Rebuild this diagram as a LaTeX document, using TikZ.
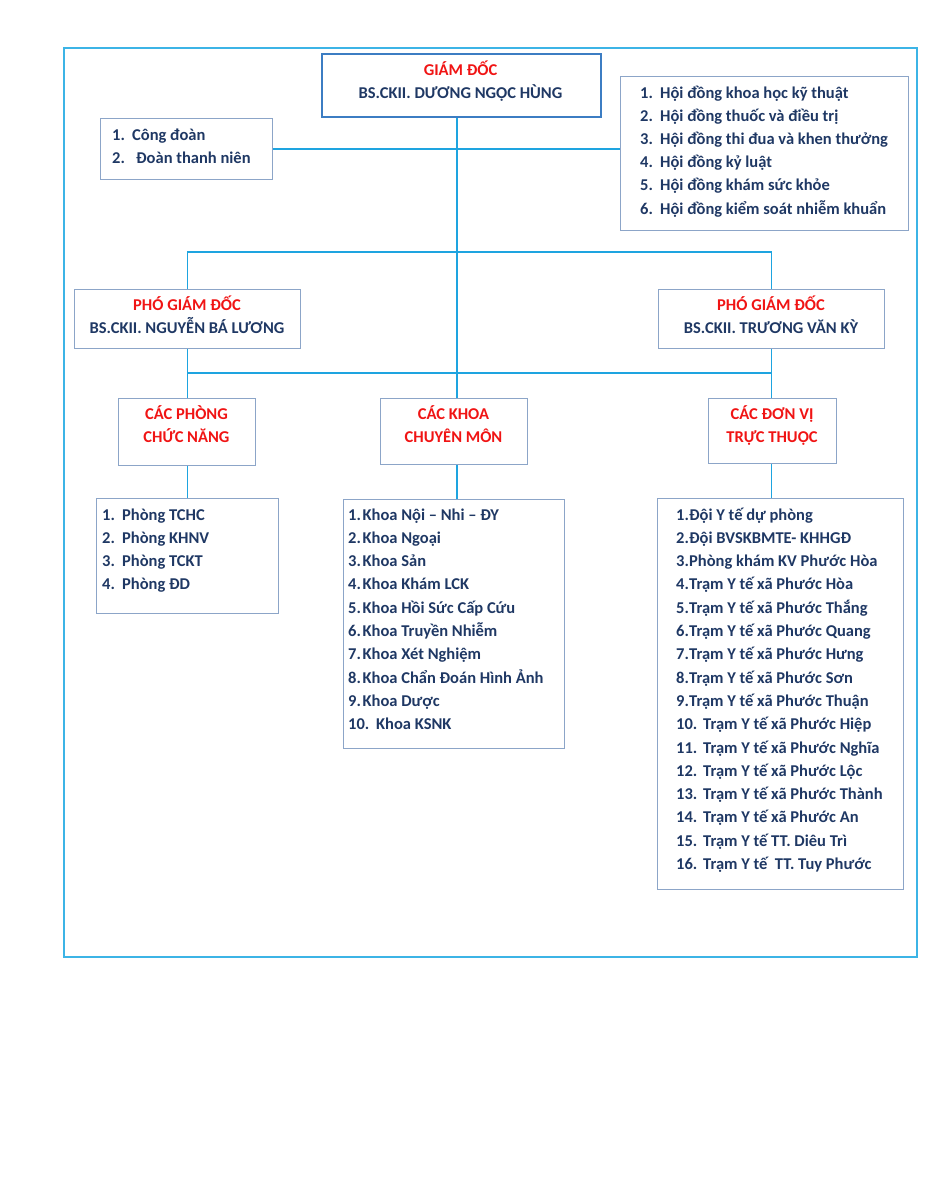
\documentclass[tikz,border=0pt]{standalone}
\usepackage{fontspec}
\setmainfont{Carlito}
\definecolor{linecol}{RGB}{30,164,224}
\definecolor{framecol}{RGB}{60,180,230}
\definecolor{boxcol}{RGB}{140,165,200}
\definecolor{dircol}{RGB}{60,125,195}
\definecolor{navy}{RGB}{31,56,100}
\definecolor{redc}{RGB}{240,20,20}
\newcommand\numtxt[3]{\makebox[#1][l]{#2}#3}
\begin{document}
\begin{tikzpicture}[x=1pt,y=-1pt,
  conn/.style={draw=linecol, line width=1.8pt},
  bx/.style={draw=boxcol, line width=1pt, rectangle, inner sep=0pt, anchor=north west},
  txt/.style={font=\bfseries\fontsize{16.5}{20}\selectfont, text=navy, inner sep=0pt},
  ttl/.style={font=\bfseries\fontsize{16.5}{20}\selectfont, text=redc, inner sep=0pt, anchor=base},
  frame/.style={draw=framecol, line width=2.2pt, rectangle, inner sep=0pt, anchor=north west}
]
\useasboundingbox (0,0) rectangle (927,1200);
\node[frame, minimum width=853pt, minimum height=909pt] (fr) at (63,47) {};
\coordinate (vx) at (457,0);
\coordinate (h1) at (0,252);
\coordinate (h2) at (0,373);

% boxes
\node[bx, draw=dircol, line width=1.8pt, minimum width=279pt, minimum height=63pt] (gd) at (321,53) {};
\node[bx, minimum width=172pt, minimum height=61pt] (cd) at (100,118) {};
\node[bx, minimum width=288pt, minimum height=154pt] (hd) at (620,76) {};
\node[bx, minimum width=226pt, minimum height=59pt] (pgl) at (74,289) {};
\node[bx, minimum width=226pt, minimum height=59pt] (pgr) at (658,289) {};
\node[bx, minimum width=137pt, minimum height=67pt] (phong) at (118,398) {};
\node[bx, minimum width=147pt, minimum height=66pt] (khoa) at (380,398) {};
\node[bx, minimum width=128pt, minimum height=65pt] (dv) at (708,398) {};
\node[bx, minimum width=182pt, minimum height=115pt] (phongl) at (96,498) {};
\node[bx, minimum width=221pt, minimum height=249pt] (khoal) at (343,499) {};
\node[bx, minimum width=246pt, minimum height=391pt] (dvl) at (657,498) {};

% titles
\node[ttl] (gdt1) at (460.5,75) {GIÁM ĐỐC};
\node[txt, anchor=base] (gdt2) at (460.5,98) {BS.CKII. DƯƠNG NGỌC HÙNG};
\node[ttl] (pglt1) at (187,310) {PHÓ GIÁM ĐỐC};
\node[txt, anchor=base] (pglt2) at (187,333) {BS.CKII. NGUYỄN BÁ LƯƠNG};
\node[ttl] (pgrt1) at (771,310) {PHÓ GIÁM ĐỐC};
\node[txt, anchor=base] (pgrt2) at (771,333) {BS.CKII. TRƯƠNG VĂN KỲ};
\node[ttl] (pht1) at (186.5,419) {CÁC PHÒNG};
\node[ttl] (pht2) at (186.5,442) {CHỨC NĂNG};
\node[ttl] (kht1) at (453.5,419) {CÁC KHOA};
\node[ttl] (kht2) at (453.5,442) {CHUYÊN MÔN};
\node[ttl] (dvt1) at (772,419) {CÁC ĐƠN VỊ};
\node[ttl] (dvt2) at (772,442) {TRỰC THUỘC};

% lists
\node[txt, anchor=base west] (cd1) at (112,140) {\numtxt{20pt}{1.}{Công đoàn}};
\node[txt, anchor=base west] (cd2) at (112,163) {\numtxt{24pt}{2.}{Đoàn thanh niên}};

\foreach \nn/\tx [count=\i from 0] in {1./Hội đồng khoa học kỹ thuật, 2./Hội đồng thuốc và điều trị, 3./Hội đồng thi đua và khen thưởng, 4./Hội đồng kỷ luật, 5./Hội đồng khám sức khỏe, 6./Hội đồng kiểm soát nhiễm khuẩn}
  \node[txt, anchor=base west] (hd\i) at (640,{98+23.2*\i}) {\numtxt{20pt}{\nn}{\tx}};

\foreach \nn/\tx [count=\i from 0] in {1./Phòng TCHC, 2./Phòng KHNV, 3./Phòng TCKT, 4./Phòng ĐD}
  \node[txt, anchor=base west] (pl\i) at (102,{520+23.3*\i}) {\numtxt{20pt}{\nn}{\tx}};

\foreach \w/\nn/\tx [count=\i from 0] in {14.5pt/1./Khoa Nội – Nhi – ĐY, 14.5pt/2./Khoa Ngoại, 14.5pt/3./Khoa Sản, 14.5pt/4./Khoa Khám LCK, 14.5pt/5./Khoa Hồi Sức Cấp Cứu, 14.5pt/6./Khoa Truyền Nhiễm, 14.5pt/7./Khoa Xét Nghiệm, 14.5pt/8./Khoa Chẩn Đoán Hình Ảnh, 14.5pt/9./Khoa Dược, 28pt/10./Khoa KSNK}
  \node[txt, anchor=base west] (kl\i) at (348,{520+23.3*\i}) {\numtxt{\w}{\nn}{\tx}};

\foreach \w/\nn/\tx [count=\i from 0] in {13pt/1./Đội Y tế dự phòng, 13pt/2./Đội BVSKBMTE- KHHGĐ, 13pt/3./Phòng khám KV Phước Hòa, 13pt/4./Trạm Y tế xã Phước Hòa, 13pt/5./Trạm Y tế xã Phước Thắng, 13pt/6./Trạm Y tế xã Phước Quang, 13pt/7./Trạm Y tế xã Phước Hưng, 13pt/8./Trạm Y tế xã Phước Sơn, 13pt/9./Trạm Y tế xã Phước Thuận, 27pt/10./Trạm Y tế xã Phước Hiệp, 27pt/11./Trạm Y tế xã Phước Nghĩa, 27pt/12./Trạm Y tế xã Phước Lộc, 27pt/13./Trạm Y tế xã Phước Thành, 27pt/14./Trạm Y tế xã Phước An, 27pt/15./Trạm Y tế TT. Diêu Trì, 27pt/16./Trạm Y tế\ \ TT. Tuy Phước}
  \node[txt, anchor=base west] (dl\i) at (676,{520+23.3*\i}) {\numtxt{\w}{\nn}{\tx}};

% connectors
\draw[conn] (gd.south -| vx) -- (khoa.north -| vx);
\draw[conn] (cd.east) -- (cd.east -| hd.west);
\draw[conn] (pgl.north) -- (pgl.north |- h1) -- (pgr.north |- h1) -- (pgr.north);
\draw[conn] (pgl.south) -- (phong.north -| pgl.south);
\draw[conn] (pgr.south) -- (dv.north -| pgr.south);
\draw[conn] (pgl.south |- h2) -- (pgr.south |- h2);
\draw[conn] (phong.south -| pgl.south) -- (phongl.north -| pgl.south);
\draw[conn] (khoa.south -| vx) -- (khoal.north -| vx);
\draw[conn] (dv.south -| pgr.south) -- (dvl.north -| pgr.south);
\end{tikzpicture}
\end{document}
